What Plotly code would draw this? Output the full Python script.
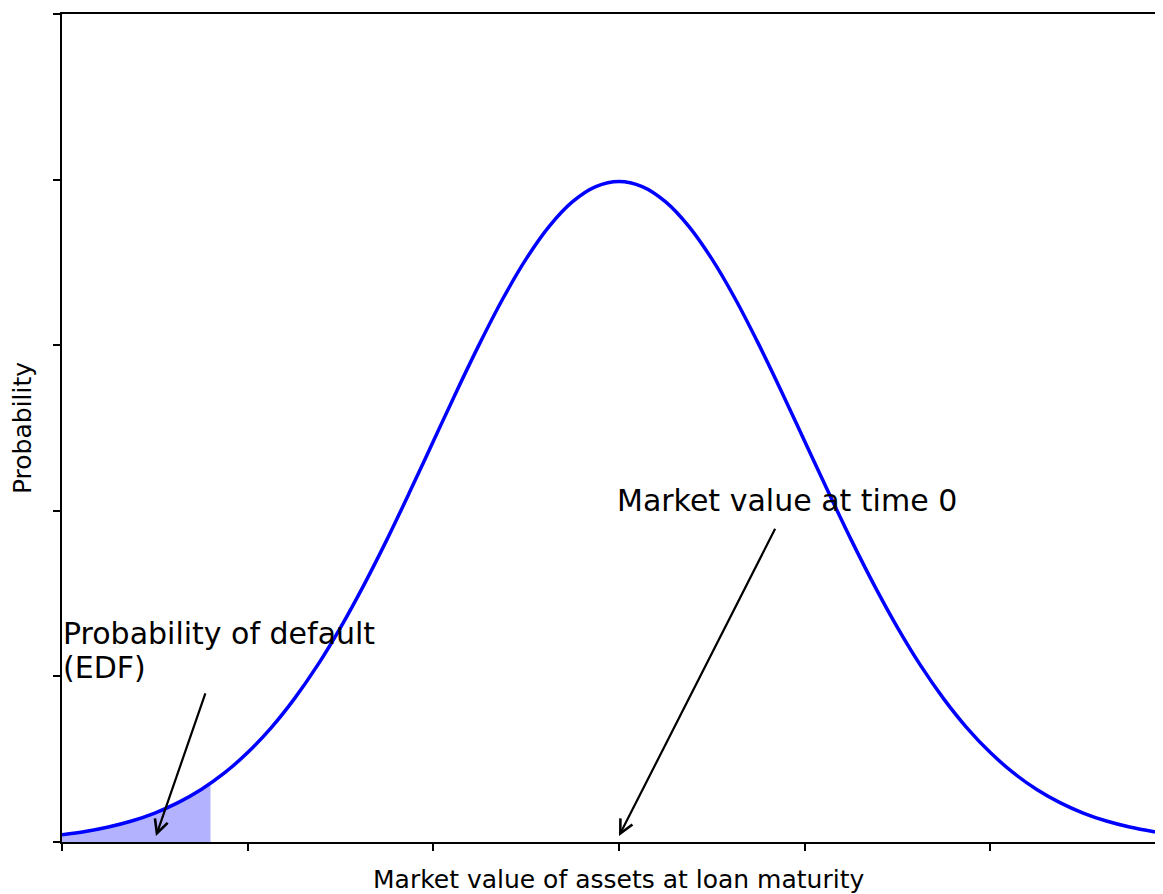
import plotly.graph_objects as go

# Asset value at maturity (in standard deviations from value at time 0)
x_vals = [-3.0, -2.875, -2.75, -2.625, -2.5, -2.375, -2.25, -2.125, -2.0, -1.875, -1.75, -1.625,
          -1.5, -1.375, -1.25, -1.125, -1.0, -0.875, -0.75, -0.625, -0.5, -0.375, -0.25, -0.125,
          0.0, 0.125, 0.25, 0.375, 0.5, 0.625, 0.75, 0.875, 1.0, 1.125, 1.25, 1.375,
          1.5, 1.625, 1.75, 1.875, 2.0, 2.125, 2.25, 2.375, 2.5, 2.625, 2.75, 2.875, 2.93]
prob_vals = [0.0044, 0.0064, 0.0091, 0.0127, 0.0175, 0.0238, 0.0317, 0.0417, 0.0540, 0.0688,
             0.0863, 0.1065, 0.1295, 0.1550, 0.1826, 0.2119, 0.2420, 0.2721, 0.3011, 0.3282,
             0.3521, 0.3719, 0.3867, 0.3958, 0.3989, 0.3958, 0.3867, 0.3719, 0.3521, 0.3282,
             0.3011, 0.2721, 0.2420, 0.2119, 0.1826, 0.1550, 0.1295, 0.1065, 0.0863, 0.0688,
             0.0540, 0.0417, 0.0317, 0.0238, 0.0175, 0.0127, 0.0091, 0.0064, 0.0055]

# Default region (EDF)
edf_x = [-3.0, -2.875, -2.75, -2.625, -2.5, -2.375, -2.25, -2.2]
edf_y = [0.0044, 0.0064, 0.0091, 0.0127, 0.0175, 0.0238, 0.0317, 0.0355]

x_ticks = [-3, -2, -1, 0, 1, 2]
y_ticks = [0.0, 0.1, 0.2, 0.3, 0.4, 0.5]

FONT = "DejaVu Sans"

fig = go.Figure()
fig.add_trace(go.Scatter(x=edf_x, y=edf_y, mode="lines", line=dict(width=0, shape="spline"),
                         fill="tozeroy", fillcolor="rgba(0,0,255,0.3)", hoverinfo="skip",
                         showlegend=False))
fig.add_trace(go.Scatter(x=x_vals, y=prob_vals, mode="lines",
                         line=dict(color="#0000ff", width=3.5, shape="spline"),
                         showlegend=False))

# arrows
fig.add_annotation(x=0.0, y=0.0036, ax=0.845, ay=0.190, xref="x", yref="y", axref="x", ayref="y",
                   text="", showarrow=True, arrowhead=5, arrowsize=1.2, arrowwidth=2.2,
                   arrowcolor="black", standoff=0, startstandoff=0)
fig.add_annotation(x=-2.494, y=0.0036, ax=-2.225, ay=0.0906, xref="x", yref="y", axref="x", ayref="y",
                   text="", showarrow=True, arrowhead=5, arrowsize=1.2, arrowwidth=2.2,
                   arrowcolor="black", standoff=0, startstandoff=0)
# texts
fig.add_annotation(x=0.0, y=0.2065, xref="x", yref="y", text="Market value at time 0",
                   showarrow=False, xanchor="left", yanchor="middle", xshift=-4,
                   font=dict(family=FONT, size=30, color="black"))
fig.add_annotation(x=-2.99, y=0.1270, xref="x", yref="y", text="Probability of default",
                   showarrow=False, xanchor="left", yanchor="middle", align="left",
                   xshift=-3, yshift=-2, font=dict(family=FONT, size=30, color="black"))
fig.add_annotation(x=-2.99, y=0.1065, xref="x", yref="y", text="(EDF)",
                   showarrow=False, xanchor="left", yanchor="middle", align="left",
                   xshift=-3, yshift=-2, font=dict(family=FONT, size=30, color="black"))
# x axis title
fig.add_annotation(x=0.505, y=0, xref="paper", yref="paper", yshift=-21,
                   text="Market value of assets at loan maturity", showarrow=False,
                   xanchor="center", yanchor="top", font=dict(family=FONT, size=25, color="black"))

fig.update_layout(
    width=1155, height=886,
    margin=dict(l=54, r=0, t=6, b=52),
    plot_bgcolor="white", paper_bgcolor="white",
    font=dict(family=FONT, size=25, color="black"),
    xaxis=dict(range=[-3, 2.93], tickvals=x_ticks, showticklabels=False, ticks="outside",
               ticklen=7, tickwidth=1.8, tickcolor="black", showline=True, linecolor="black",
               linewidth=1.8, mirror=True, showgrid=False, zeroline=False),
    yaxis=dict(range=[0, 0.5], tickvals=y_ticks, showticklabels=False, ticks="outside",
               ticklen=7, tickwidth=1.8, tickcolor="black", showline=True, linecolor="black",
               linewidth=1.8, showgrid=False, zeroline=False,
               title=dict(text="Probability", standoff=16, font=dict(size=25))),
)

fig.write_html("out.html")
